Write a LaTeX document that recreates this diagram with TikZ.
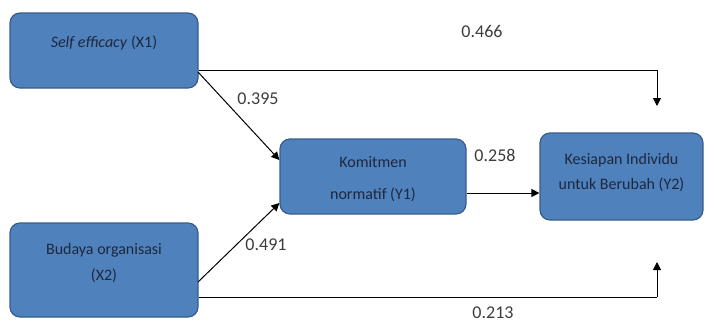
\documentclass[tikz,border=0pt]{standalone}
\usepackage{fontspec}
\setmainfont{Carlito}
\usetikzlibrary{arrows.meta}
\definecolor{boxfill}{RGB}{79,129,189}
\definecolor{boxline}{RGB}{56,93,138}
\definecolor{boxtext}{RGB}{30,40,60}
\definecolor{labtext}{RGB}{60,60,60}
\tikzset{
  var/.style={draw=boxline, line width=1.2pt, fill=boxfill, rounded corners=10pt, inner sep=0pt},
  vtext/.style={text=boxtext, font=\fontsize{16}{26}\selectfont, align=center, inner sep=0pt},
  conn/.style={line width=1pt, -{Triangle[length=8pt,width=8pt]}},
  seg/.style={line width=1pt},
  coef/.style={text=labtext, font=\fontsize{18}{20}\selectfont, inner sep=0pt}
}
\begin{document}
\begin{tikzpicture}[x=1pt,y=-1pt]
\useasboundingbox (0,0) rectangle (715,324);
% boxes
\node[var, minimum width=188pt, minimum height=75pt] (x1) at (104,50.5) {};
\node[vtext] (x1t) at (104,43) {\textit{Self efficacy} (X1)};
\node[var, minimum width=188pt, minimum height=94pt] (x2) at (104,270) {};
\node[vtext] (x2t) at (104,263.5) {Budaya organisasi\\(X2)};
\node[var, minimum width=186pt, minimum height=75pt] (y1) at (373,176.5) {};
\node[vtext, font=\fontsize{16}{32}\selectfont] (y1t) at (373,179) {Komitmen\\normatif (Y1)};
\node[var, minimum width=163pt, minimum height=87pt] (y2) at (621.5,176.5) {};
\node[vtext, font=\fontsize{16}{25}\selectfont] (y2t) at (621.5,172.5) {Kesiapan Individu\\untuk Berubah (Y2)};
% connector end points
\coordinate (c1) at (657,70);
\coordinate (t1) at (657,106);
\coordinate (c2) at (657,297);
\coordinate (t2) at (657,262);
% connectors
\draw[seg] (x1.east |- 0,70) -- (c1);
\draw[conn] (c1) -- (t1);
\draw[seg] (x2.east |- 0,297) -- (c2);
\draw[conn] (c2) -- (t2);
\draw[conn] (198,72) -- (y1.west |- 0,160);
\draw[conn] (198,282) -- (y1.west |- 0,203);
\draw[conn] (y1.east |- 0,193) -- (y2.west |- 0,193);
% labels
\node[coef] (l1) at (482,31) {0.466};
\node[coef] (l2) at (258,99) {0.395};
\node[coef] (l3) at (495,155) {0.258};
\node[coef] (l4) at (266,245) {0.491};
\node[coef] (l5) at (493,313) {0.213};
\end{tikzpicture}
\end{document}
